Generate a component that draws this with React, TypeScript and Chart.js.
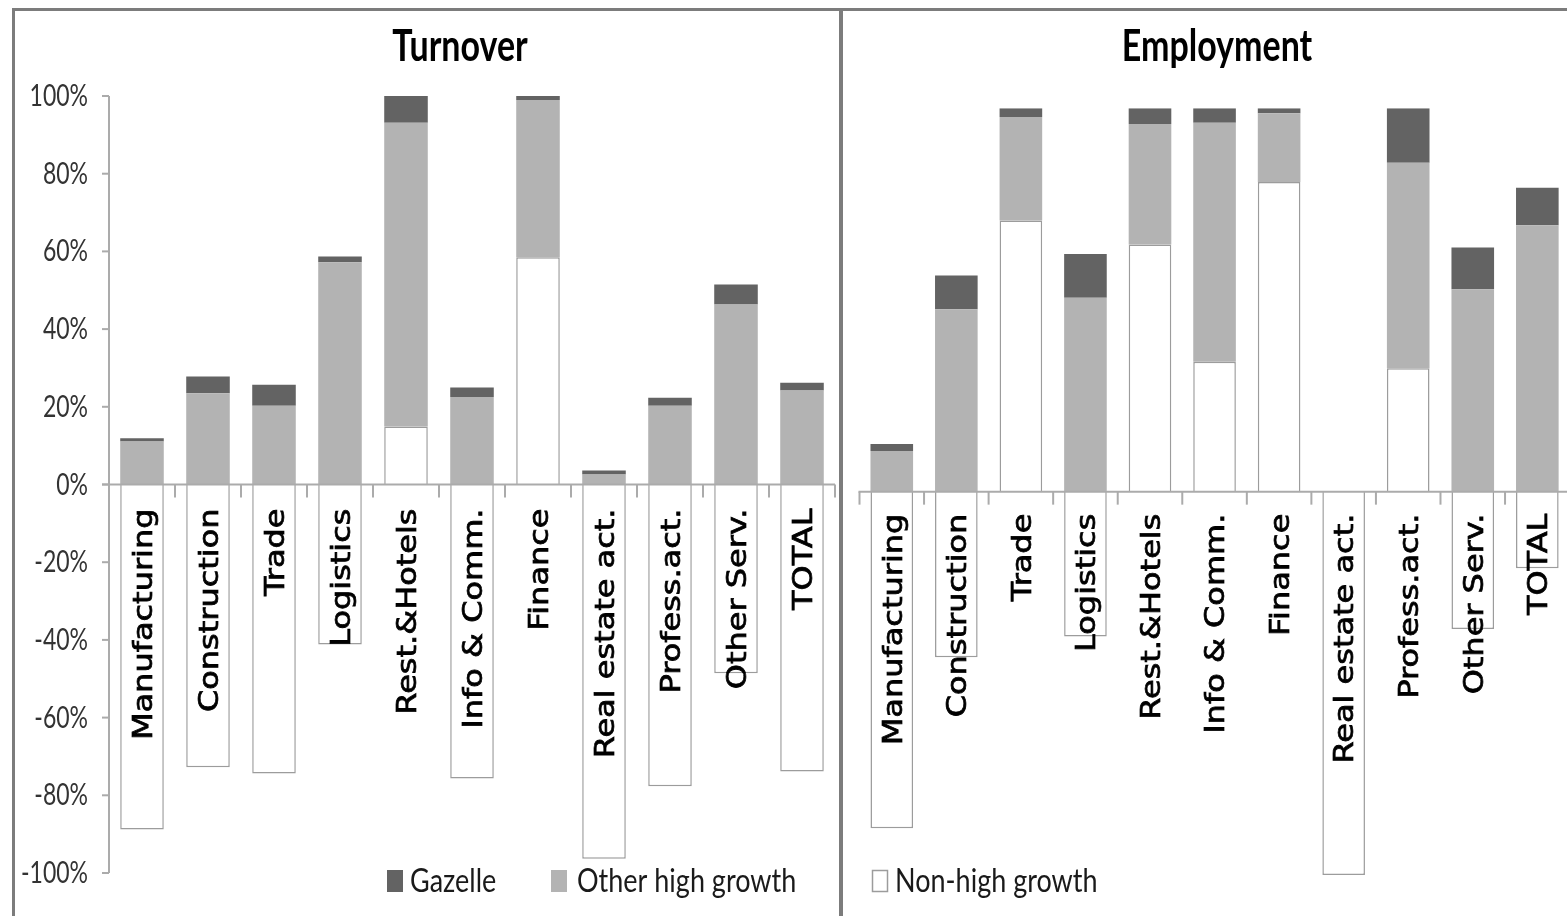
import React, { useEffect, useRef } from "react";
import { Chart, registerables } from "chart.js";

Chart.register(...registerables);

// ---------- DATA ----------
const CATEGORIES = [
  "Manufacturing",
  "Construction",
  "Trade",
  "Logistics",
  "Rest.&Hotels",
  "Info & Comm.",
  "Finance",
  "Real estate act.",
  "Profess.act.",
  "Other Serv.",
  "TOTAL",
];
const SERIES_NAMES = ["Non-high growth", "Other high growth", "Gazelle"];

const TURNOVER_NON_HIGH = [-88.8, -72.8, -74.4, -41.2, 14.9, -75.7, 58.5, -96.3, -77.7, -48.6, -73.9];
const TURNOVER_OTHER_HIGH = [11.1, 23.5, 20.3, 57.2, 78.2, 22.5, 40.5, 2.6, 20.3, 46.3, 24.2];
const TURNOVER_GAZELLE = [0.8, 4.3, 5.4, 1.5, 6.9, 2.5, 1.0, 1.0, 2.0, 5.2, 2.0];

const EMPLOYMENT_NON_HIGH = [-87.8, -43.2, 70.7, -37.8, 64.5, 33.9, 80.8, -100, 32.2, -35.8, -20.0];
const EMPLOYMENT_OTHER_HIGH = [10.6, 47.6, 27.0, 50.6, 31.4, 62.3, 17.9, 0, 53.6, 52.8, 69.5];
const EMPLOYMENT_GAZELLE = [1.8, 8.8, 2.3, 11.4, 4.1, 3.8, 1.3, 0, 14.2, 10.9, 9.8];

const Y_TICKS = [100, 80, 60, 40, 20, 0, -20, -40, -60, -80, -100];

// ---------- STYLE ----------
const COLOR_NON_HIGH = "#ffffff";
const COLOR_NON_HIGH_BORDER = "#9c9c9c";
const COLOR_OTHER_HIGH = "#b3b3b3";
const COLOR_GAZELLE = "#636363";
const AXIS_COLOR = "#ababab";

type LegendItem = { index: number; squareX: number; textX: number };

type PanelOpts = {
  title: string;
  titleX: number;
  titleY: number;
  showYAxis: boolean;
  zeroLineExtend: number;
  labelGap: number;
  legend: LegendItem[];
  legendY: number;
};

function drawStretched(
  ctx: CanvasRenderingContext2D,
  text: string,
  x: number,
  y: number,
  sy: number
) {
  ctx.save();
  ctx.translate(x, y);
  ctx.scale(1, sy);
  ctx.fillText(text, 0, 0);
  ctx.restore();
}

function makeDecorPlugin(o: PanelOpts) {
  return {
    id: "decor",
    afterDatasetsDraw(chart: any) {
      const ctx: CanvasRenderingContext2D = chart.ctx;
      const { left, right } = chart.chartArea;
      const xs = chart.scales.x;
      const ys = chart.scales.y;
      const y0 = ys.getPixelForValue(0);
      ctx.save();

      // y axis
      if (o.showYAxis) {
        ctx.strokeStyle = AXIS_COLOR;
        ctx.lineWidth = 2;
        ctx.beginPath();
        ctx.moveTo(left, ys.getPixelForValue(Y_TICKS[0]));
        ctx.lineTo(left, ys.getPixelForValue(Y_TICKS[Y_TICKS.length - 1]));
        ctx.stroke();
        ctx.font = "23px Lato";
        ctx.fillStyle = "#333333";
        ctx.textAlign = "right";
        ctx.textBaseline = "middle";
        Y_TICKS.forEach((v) => {
          const py = ys.getPixelForValue(v);
          ctx.beginPath();
          ctx.moveTo(left - 7, py);
          ctx.lineTo(left, py);
          ctx.stroke();
          drawStretched(ctx, v + "%", left - 21, py, 1.36);
        });
      }

      // zero line
      ctx.strokeStyle = AXIS_COLOR;
      ctx.lineWidth = 2;
      ctx.beginPath();
      ctx.moveTo(left - o.zeroLineExtend, y0);
      ctx.lineTo(right, y0);
      ctx.stroke();

      // category boundary ticks
      const n = CATEGORIES.length;
      for (let i = 0; i <= n; i++) {
        let bx: number;
        if (i === 0) bx = left;
        else if (i === n) bx = right;
        else bx = (xs.getPixelForValue(i - 1) + xs.getPixelForValue(i)) / 2;
        ctx.beginPath();
        ctx.moveTo(bx, y0);
        ctx.lineTo(bx, y0 + 13);
        ctx.stroke();
      }

      // category labels (rotated)
      ctx.font = "26px 'DejaVu Sans'";
      ctx.fillStyle = "#000000";
      ctx.strokeStyle = "#000000";
      ctx.lineWidth = 0.7;
      ctx.textAlign = "right";
      ctx.textBaseline = "middle";
      CATEGORIES.forEach((lab, i) => {
        const cx = xs.getPixelForValue(i);
        ctx.save();
        ctx.translate(cx + 3, y0 + o.labelGap);
        ctx.rotate(-Math.PI / 2);
        ctx.scale(1.23, 1);
        ctx.fillText(lab, 0, 0);
        ctx.strokeText(lab, 0, 0);
        ctx.restore();
      });

      // title
      ctx.font = "bold 34px Lato";
      ctx.fillStyle = "#000000";
      ctx.textAlign = "center";
      ctx.textBaseline = "alphabetic";
      drawStretched(ctx, o.title, o.titleX, o.titleY, 1.28);

      // legend
      ctx.font = "27px Lato";
      ctx.textAlign = "left";
      ctx.textBaseline = "middle";
      o.legend.forEach((it) => {
        const ds = chart.data.datasets[it.index];
        ctx.fillStyle = ds.backgroundColor;
        ctx.fillRect(it.squareX, o.legendY - 11, 16, 22);
        if (it.index === 0) {
          ctx.strokeStyle = COLOR_NON_HIGH_BORDER;
          ctx.lineWidth = 1.5;
          ctx.strokeRect(it.squareX + 0.5, o.legendY - 10.5, 15, 21);
        }
        ctx.fillStyle = "#1a1a1a";
        drawStretched(ctx, ds.label, it.textX, o.legendY + 1, 1.2);
      });

      ctx.restore();
    },
  };
}

function makeConfig(
  nonHigh: number[],
  other: number[],
  gaz: number[],
  padding: { left: number; right: number; top: number; bottom: number },
  opts: PanelOpts
): any {
  return {
    type: "bar",
    data: {
      labels: CATEGORIES,
      datasets: [
        {
          label: SERIES_NAMES[0],
          data: nonHigh,
          backgroundColor: COLOR_NON_HIGH,
          borderColor: COLOR_NON_HIGH_BORDER,
          borderWidth: 1.5,
        },
        {
          label: SERIES_NAMES[1],
          data: other,
          backgroundColor: COLOR_OTHER_HIGH,
          borderWidth: 0,
        },
        {
          label: SERIES_NAMES[2],
          data: gaz,
          backgroundColor: COLOR_GAZELLE,
          borderWidth: 0,
        },
      ],
    },
    options: {
      animation: false,
      responsive: false,
      maintainAspectRatio: false,
      layout: { padding },
      datasets: { bar: { categoryPercentage: 1, barPercentage: 0.66 } },
      plugins: {
        legend: { display: false },
        title: { display: false },
        tooltip: { enabled: false },
      },
      scales: {
        x: { stacked: true, display: false, offset: true },
        y: { stacked: true, display: false, min: -100, max: 100 },
      },
    },
    plugins: [makeDecorPlugin(opts)],
  };
}

// canvas placement (page coords)
const LEFT_CANVAS = { x: 15, y: 11, w: 824, h: 905 };
const RIGHT_CANVAS = { x: 843, y: 11, w: 740, h: 905 };

export default function App() {
  const leftRef = useRef<HTMLCanvasElement | null>(null);
  const rightRef = useRef<HTMLCanvasElement | null>(null);

  useEffect(() => {
    const c1 = new Chart(
      leftRef.current as HTMLCanvasElement,
      makeConfig(
        TURNOVER_NON_HIGH,
        TURNOVER_OTHER_HIGH,
        TURNOVER_GAZELLE,
        { left: 94, right: 4, top: 85, bottom: 43 },
        {
          title: "Turnover",
          titleX: 445,
          titleY: 50,
          showYAxis: true,
          zeroLineExtend: 7,
          labelGap: 24,
          legend: [
            { index: 2, squareX: 372, textX: 395 },
            { index: 1, squareX: 536, textX: 562 },
          ],
          legendY: 870,
        }
      )
    );
    const c2 = new Chart(
      rightRef.current as HTMLCanvasElement,
      makeConfig(
        EMPLOYMENT_NON_HIGH,
        EMPLOYMENT_OTHER_HIGH,
        EMPLOYMENT_GAZELLE,
        { left: 16.5, right: 13.4, top: 97.3, bottom: 41 },
        {
          title: "Employment",
          titleX: 374,
          titleY: 50,
          showYAxis: false,
          zeroLineExtend: 1,
          labelGap: 22,
          legend: [{ index: 0, squareX: 29, textX: 52 }],
          legendY: 870,
        }
      )
    );
    return () => {
      c1.destroy();
      c2.destroy();
    };
  }, []);

  return (
    <div
      style={{
        position: "fixed",
        left: 0,
        top: 0,
        width: 1567,
        height: 916,
        overflow: "hidden",
        background: "#ffffff",
      }}
    >
      <div
        style={{
          position: "absolute",
          left: 12,
          top: 8,
          width: 1700,
          height: 1000,
          borderLeft: "3px solid #7c7c7c",
          borderTop: "3px solid #7c7c7c",
        }}
      />
      <div
        style={{
          position: "absolute",
          left: 839,
          top: 8,
          width: 4,
          height: 920,
          background: "#7c7c7c",
        }}
      />
      <canvas
        ref={leftRef}
        width={LEFT_CANVAS.w}
        height={LEFT_CANVAS.h}
        style={{
          position: "absolute",
          left: LEFT_CANVAS.x,
          top: LEFT_CANVAS.y,
          width: LEFT_CANVAS.w,
          height: LEFT_CANVAS.h,
        }}
      />
      <canvas
        ref={rightRef}
        width={RIGHT_CANVAS.w}
        height={RIGHT_CANVAS.h}
        style={{
          position: "absolute",
          left: RIGHT_CANVAS.x,
          top: RIGHT_CANVAS.y,
          width: RIGHT_CANVAS.w,
          height: RIGHT_CANVAS.h,
        }}
      />
    </div>
  );
}
